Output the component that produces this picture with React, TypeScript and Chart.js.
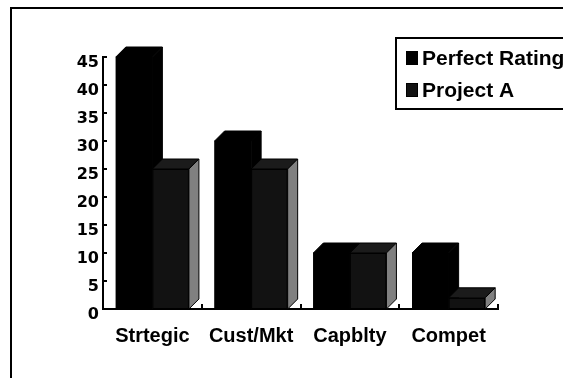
import { useEffect, useRef } from "react";
import { Chart, registerables } from "chart.js";

Chart.register(...registerables);

// Category labels along the x axis
const categories = ["Strtegic", "Cust/Mkt", "Capblty", "Compet"];
// Series values
const perfectRating = [45, 30, 10, 10];
const projectA = [25, 25, 10, 2];
const seriesNames = ["Perfect Rating", "Project A"];
// Value axis range
const yMin = 0;
const yMax = 45;
const yStep = 5;

// Face colours for the extruded columns (front / top / side)
const faces = [
  { front: "#000000", top: "#000000", side: "#000000" },
  { front: "#121212", top: "#1b1b1b", side: "#808080" },
];

const DEPTH_X = 10;
const DEPTH_Y = 10;
const LABEL_FONT = "'Liberation Sans', Arial, sans-serif";

// Draws each column as a box: front, top and right-hand side faces.
const columns3d = {
  id: "columns3d",
  afterDatasetsDraw(chart: any) {
    const ctx = chart.ctx as CanvasRenderingContext2D;
    ctx.save();
    ctx.lineJoin = "miter";
    chart.data.datasets.forEach((_ds: any, di: number) => {
      const meta = chart.getDatasetMeta(di);
      const f = faces[di];
      meta.data.forEach((bar: any) => {
        const { x, y, base, width } = bar.getProps(["x", "y", "base", "width"], true);
        const l = x - width / 2;
        const r = x + width / 2;
        ctx.lineWidth = 1;
        ctx.strokeStyle = "#000";
        // front
        ctx.fillStyle = f.front;
        ctx.fillRect(l, y, r - l, base - y);
        ctx.strokeRect(l + 0.5, y + 0.5, r - l - 1, base - y - 1);
        // top
        ctx.beginPath();
        ctx.moveTo(l, y);
        ctx.lineTo(l + DEPTH_X, y - DEPTH_Y);
        ctx.lineTo(r + DEPTH_X, y - DEPTH_Y);
        ctx.lineTo(r, y);
        ctx.closePath();
        ctx.fillStyle = f.top;
        ctx.fill();
        ctx.stroke();
        // side
        ctx.beginPath();
        ctx.moveTo(r, y);
        ctx.lineTo(r + DEPTH_X, y - DEPTH_Y);
        ctx.lineTo(r + DEPTH_X, base - DEPTH_Y);
        ctx.lineTo(r, base);
        ctx.closePath();
        ctx.fillStyle = f.side;
        ctx.fill();
        ctx.stroke();
      });
    });
    ctx.restore();
  },
};

// Short inward tick marks on both axes, the outer frame and the legend box.
const decorations = {
  id: "decorations",
  afterDraw(chart: any) {
    const ctx = chart.ctx as CanvasRenderingContext2D;
    const xs = chart.scales.x;
    const ys = chart.scales.y;
    const area = chart.chartArea;
    ctx.save();
    ctx.fillStyle = "#000";
    // value axis ticks (pointing right, into the plot)
    for (let v = yMin; v <= yMax; v += yStep) {
      const py = Math.round(ys.getPixelForValue(v));
      ctx.fillRect(area.left, py - 1, 4, 2);
    }
    // category boundary ticks (pointing up)
    for (let i = 0; i <= categories.length; i++) {
      const px = Math.round(xs.getPixelForValue(i - 0.5));
      ctx.fillRect(px - 1, area.bottom - 5, 2, 5);
    }
    // frame
    ctx.fillRect(10, 7, 2, chart.height - 7);
    ctx.fillRect(10, 7, chart.width - 10, 2);
    // legend
    ctx.lineWidth = 2;
    ctx.strokeStyle = "#000";
    ctx.strokeRect(396, 38, 200, 71);
    ctx.font = `bold 21px ${LABEL_FONT}`;
    ctx.textBaseline = "alphabetic";
    ctx.textAlign = "left";
    chart.data.datasets.forEach((ds: any, i: number) => {
      const top = 51 + i * 32;
      ctx.fillStyle = faces[i].front;
      ctx.fillRect(406, top, 12, 14);
      ctx.lineWidth = 1;
      ctx.strokeRect(406.5, top + 0.5, 11, 13);
      ctx.fillStyle = "#000";
      ctx.fillText(ds.label, 422, top + 14);
    });
    ctx.restore();
  },
};

export default function App() {
  const canvasRef = useRef<HTMLCanvasElement | null>(null);

  useEffect(() => {
    if (!canvasRef.current) return;
    const chart = new Chart(canvasRef.current, {
      type: "bar",
      data: {
        labels: categories,
        datasets: [
          {
            label: seriesNames[0],
            data: perfectRating,
            backgroundColor: faces[0].front,
            borderWidth: 0,
          },
          {
            label: seriesNames[1],
            data: projectA,
            backgroundColor: faces[1].front,
            borderWidth: 0,
          },
        ],
      },
      options: {
        responsive: false,
        animation: false,
        devicePixelRatio: 1,
        datasets: {
          bar: { categoryPercentage: 0.74, barPercentage: 1 },
        },
        layout: { padding: { left: 63, right: 65, top: 57, bottom: 29 } },
        plugins: {
          legend: { display: false },
          tooltip: { enabled: false },
          title: { display: false },
        },
        scales: {
          x: {
            grid: { display: false, drawTicks: false },
            border: { display: true, color: "#000", width: 2 },
            ticks: {
              color: "#000",
              font: { family: LABEL_FONT, size: 20, weight: "bold" },
              padding: 15,
              maxRotation: 0,
              autoSkip: false,
            },
            afterFit(scale: any) {
              scale.height = 40;
            },
          },
          y: {
            min: yMin,
            max: yMax,
            grid: { display: false, drawTicks: false },
            border: { display: true, color: "#000", width: 2 },
            ticks: {
              stepSize: yStep,
              color: "#000",
              font: { family: "'DejaVu Sans', sans-serif", size: 16, weight: "bold" },
              padding: 4,
              labelOffset: 6,
            },
            afterFit(scale: any) {
              scale.width = 40;
            },
          },
        },
      },
      plugins: [columns3d, decorations],
    });
    return () => chart.destroy();
  }, []);

  return (
    <div style={{ position: "fixed", left: 0, top: 0, width: 563, height: 378, background: "#fff" }}>
      <canvas ref={canvasRef} width={563} height={378} />
    </div>
  );
}
